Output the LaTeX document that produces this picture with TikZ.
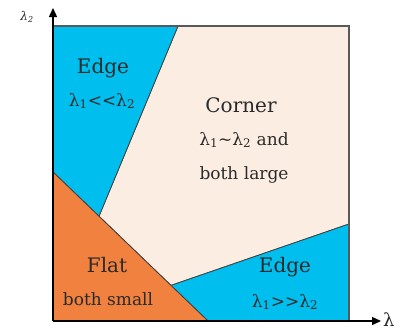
\documentclass[tikz,border=0pt]{standalone}
\usepackage{fontspec}
\setmainfont{DejaVu Serif}
\newfontfamily\tnr{DejaVu Serif}[Ligatures=NoCommon]
\usetikzlibrary{arrows.meta}
\definecolor{edgecol}{HTML}{00BFEF}
\definecolor{flatcol}{HTML}{F0813F}
\definecolor{cornercol}{HTML}{FCEDE3}
\definecolor{txtcol}{HTML}{2A2A2A}
\tikzset{
  region/.style={draw=black!75, line width=0.8pt, line join=round},
  bigtxt/.style={text=txtcol, font=\tnr\fontsize{20}{24}\selectfont, inner sep=0pt},
  smalltxt/.style={text=txtcol, font=\tnr\fontsize{17}{20}\selectfont, inner sep=0pt},
  axis/.style={draw=black, line width=1.4pt, -{Triangle[length=9pt,width=8pt]}}
}
\newcommand{\lam}[1]{λ\textsubscript{#1}}
\begin{document}
\begin{tikzpicture}[x=1pt,y=-1pt]
\useasboundingbox (0,0) rectangle (401,332);
% regions
\fill[cornercol] (53,26) rectangle (349,321);
\draw[region, fill=cornercol] (178,26) -- (349,26) -- (349,224) -- (171,285.4) -- (99,216.2) -- cycle;
\draw[region, fill=edgecol] (53,26) -- (178,26) -- (99,216.2) -- (53,172) -- cycle;
\draw[region, fill=edgecol] (171,285.4) -- (349,224) -- (349,321) -- (208,321) -- cycle;
\draw[region, fill=flatcol] (53,172) -- (208,321) -- (53,321) -- cycle;
\draw[draw=black!65, line width=1.2pt] (53,26) -- (349,26) -- (349,321);
% axes
\coordinate (o) at (53,321);
\coordinate (xe) at (381,321);
\coordinate (ye) at (53,8);
\draw[axis] (o) -- (xe);
\draw[axis] (o) -- (ye);
\node[text=txtcol, font=\tnr\fontsize{12}{14}\selectfont\itshape, inner sep=0pt] (ylab) at (27,17) {\lam{2}};
\node[text=txtcol, font=\tnr\fontsize{18}{20}\selectfont, inner sep=0pt, anchor=west] (xlab) at (383,320) {λ};
% texts
\node[bigtxt] (e1) at (103,68) {Edge};
\node[smalltxt] (e1s) at (102,101) {\lam{1}<{}<\lam{2}};
\node[bigtxt] (c) at (241,105) {Corner};
\node[smalltxt] (c1) at (244,140) {\lam{1}\textasciitilde\lam{2} and};
\node[smalltxt] (c2) at (244,175) {both large};
\node[bigtxt] (f) at (107,265) {Flat};
\node[smalltxt] (f2) at (108,299) {both small};
\node[bigtxt] (e2) at (285,267) {Edge};
\node[smalltxt] (e2s) at (285,302) {\lam{1}>{}>\lam{2}};
\end{tikzpicture}
\end{document}
